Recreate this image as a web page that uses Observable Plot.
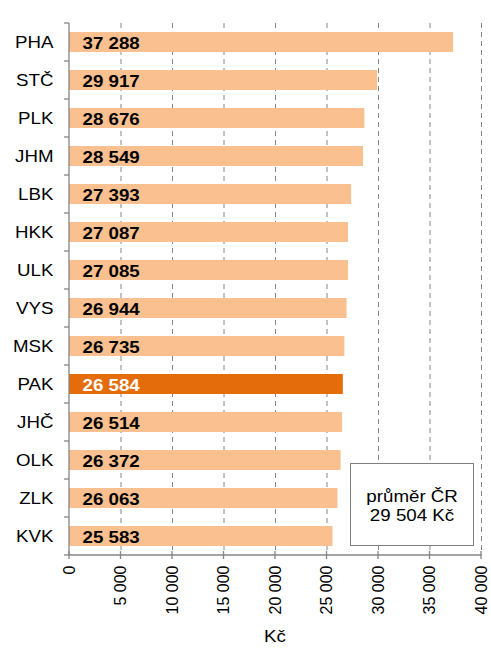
<!DOCTYPE html>
<html><head><meta charset="utf-8">
<script src="https://cdn.jsdelivr.net/npm/d3@7"></script>
<script src="https://cdn.jsdelivr.net/npm/@observablehq/plot@0.6"></script>
<style>
body{margin:0;background:#fff;}
#wrap{position:relative;width:491px;height:651px;font-family:"Liberation Sans",Arial,sans-serif;}
#box{position:absolute;left:350px;top:463px;width:124px;height:83px;border:1.5px solid #7f7f7f;background:#fff;box-sizing:border-box;
display:flex;flex-direction:column;justify-content:center;align-items:center;font-size:16px;line-height:19px;color:#000;padding-top:2px;}
#box span{display:inline-block;transform:scaleX(1.17);white-space:nowrap;}
</style></head>
<body><div id="wrap"></div>
<script>
const regions = ["PHA","STČ","PLK","JHM","LBK","HKK","ULK","VYS","MSK","PAK","JHČ","OLK","ZLK","KVK"];
const wages = [37288,29917,28676,28549,27393,27087,27085,26944,26735,26584,26514,26372,26063,25583];
const highlight = "PAK";
const averageLabel = "průměr ČR";
const averageValue = 29504;
const xTicks = [0,5000,10000,15000,20000,25000,30000,35000,40000];
const unit = "Kč";

(function(){
const light = "#FAC090", dark = "#E46C0A", axisGray = "#868686";
const stretch = 1.17;
const fmt = n => d3.format(",")(n).replace(/,/g, "\u00a0");
const data = regions.map((r,i) => ({region:r, wage:wages[i]}));

const W = 491, H = 651, mL = 69, mR = 10, mT = 23, mB = 96;

const chart = Plot.plot({
  width: W, height: H, marginLeft: mL, marginRight: mR, marginTop: mT, marginBottom: mB,
  style: {fontFamily: '"Liberation Sans", Arial, sans-serif', background: "#fff", color: "#000"},
  x: {domain: [0, 40000]},
  y: {domain: regions, paddingInner: 0.47, paddingOuter: 0.235},
  color: {type: "identity"},
  marks: [
    Plot.gridX(xTicks.filter(d => d > 0), {stroke: axisGray, strokeOpacity: 1, strokeWidth: 1, strokeDasharray: "5,4"}),
    Plot.barX(data, {x: "wage", y: "region", fill: d => d.region === highlight ? dark : light}),
    Plot.text(data, {x: 0, y: "region", text: d => fmt(d.wage), dx: 13, dy: 1, textAnchor: "start",
      fontWeight: "bold", fontSize: 16, fill: d => d.region === highlight ? "#fff" : "#000"}),
    Plot.axisY({tickSize: 0, tickPadding: 16, fontSize: 16, label: null}),
    Plot.axisX({ticks: xTicks, tickFormat: fmt, tickRotate: -90, tickSize: 0, tickPadding: 10, fontSize: 16, label: null})
  ]
});
document.getElementById("wrap").appendChild(chart);

const sx = chart.scale("x"), sy = chart.scale("y");
const xp = v => sx.apply ? sx.apply(v) : sx.range[0] + (v - sx.domain[0]) / (sx.domain[1] - sx.domain[0]) * (sx.range[1] - sx.range[0]);
const svg = d3.select(chart);
const g = svg.append("g").attr("stroke", axisGray).attr("stroke-width", 1.3);
const yTop = sy.range[0], yBottom = sy.range[1];
const x0 = xp(0), x1 = xp(40000);
g.append("line").attr("x1", x0).attr("x2", x0).attr("y1", yTop).attr("y2", yBottom);
for (let i = 0; i <= regions.length; i++) {
  const yy = yTop + i * (yBottom - yTop) / regions.length;
  g.append("line").attr("x1", x0 - 5).attr("x2", x0).attr("y1", yy).attr("y2", yy);
}
g.append("line").attr("x1", x0).attr("x2", x1).attr("y1", yBottom).attr("y2", yBottom);
for (const t of xTicks) {
  const xx = xp(t);
  g.append("line").attr("x1", xx).attr("x2", xx).attr("y1", yBottom - 4).attr("y2", yBottom + 4);
}
svg.append("text").attr("transform", `translate(${(x0 + x1) / 2},642)`).attr("text-anchor", "middle")
  .attr("font-size", 16).attr("fill", "#000").text(unit);

// widen horizontal text (the reference's glyphs are horizontally wider than Arial)
svg.selectAll("text").each(function() {
  const t = this.getAttribute("transform") || "";
  if (/rotate/.test(t)) return;
  this.setAttribute("transform", `${t} scale(${stretch},1)`);
});

const box = document.createElement("div");
box.id = "box";
box.innerHTML = `<span>${averageLabel}</span><span>${fmt(averageValue)} ${unit}</span>`;
document.getElementById("wrap").appendChild(box);
})();
</script></body></html>
